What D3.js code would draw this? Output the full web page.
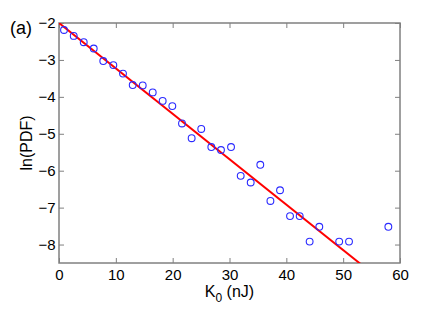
<!DOCTYPE html>
<html><head><meta charset="utf-8">
<script src="https://cdn.jsdelivr.net/npm/d3@7"></script>
<style>body{margin:0;background:#fff}svg{display:block}text{font-family:"Liberation Sans",Arial,sans-serif}</style>
</head><body><svg id="c" width="442" height="310"></svg>
<script>
const kValues = [0.88,2.59,4.35,6.11,7.79,9.56,11.26,12.97,14.73,16.49,18.24,19.94,21.64,23.34,25.03,26.8,28.5,30.27,31.97,33.73,35.42,37.2,38.89,40.65,42.35,44.1,45.8,49.3,51.03,57.95];
const lnPdf = [-2.19,-2.35,-2.52,-2.69,-3.03,-3.14,-3.37,-3.68,-3.69,-3.88,-4.11,-4.25,-4.72,-5.12,-4.87,-5.36,-5.44,-5.36,-6.14,-6.32,-5.84,-6.82,-6.53,-7.23,-7.23,-7.92,-7.52,-7.92,-7.92,-7.52];
const fitX = [0, 60];
const fitY = [-2, -2 - 0.1230*60];
const xTicks = [0,10,20,30,40,50,60];
const yTicks = [-2,-3,-4,-5,-6,-7,-8];

const svg = d3.select("#c");
const L=59,T=23,R=400,B=263;
const x = d3.scaleLinear().domain([0,60]).range([L,R]);
const y = d3.scaleLinear().domain([-8.5,-2]).range([B,T]);
const axisCol="#808080";

svg.append("clipPath").attr("id","clip").append("rect").attr("x",L).attr("y",T).attr("width",R-L).attr("height",B-T);

const fmt = d => d<0 ? "\u2212"+Math.abs(d) : String(d);
const tl=5;
const ax = svg.append("g");
ax.append("g").attr("transform",`translate(0,${B})`)
  .call(d3.axisBottom(x).tickValues(xTicks).tickSizeInner(-tl).tickSizeOuter(0).tickPadding(6.5).tickFormat(fmt));
ax.append("g").attr("transform",`translate(0,${T})`)
  .call(d3.axisTop(x).tickValues(xTicks).tickSizeInner(-tl).tickSizeOuter(0).tickFormat(""));
ax.append("g").attr("transform",`translate(${L},0)`)
  .call(d3.axisLeft(y).tickValues(yTicks).tickSizeInner(-tl).tickSizeOuter(0).tickPadding(3.5).tickFormat(fmt));
ax.append("g").attr("transform",`translate(${R},0)`)
  .call(d3.axisRight(y).tickValues(yTicks).tickSizeInner(-tl).tickSizeOuter(0).tickFormat(""));
ax.selectAll(".domain").remove();
ax.selectAll(".tick line").attr("stroke",axisCol);
ax.selectAll(".tick text").attr("fill","#000").style("font-size","15px");
svg.append("rect").attr("x",L).attr("y",T).attr("width",R-L).attr("height",B-T)
  .attr("fill","none").attr("stroke",axisCol).attr("stroke-width",1.5);

// fit line
svg.append("line").attr("clip-path","url(#clip)")
  .attr("x1",x(fitX[0])).attr("y1",y(fitY[0])).attr("x2",x(fitX[1])).attr("y2",y(fitY[1]))
  .attr("stroke","#ff0000").attr("stroke-width",2);

// points
svg.append("g").selectAll("circle").data(kValues.map((k,i)=>[k,lnPdf[i]])).join("circle")
  .attr("cx",d=>x(d[0])).attr("cy",d=>y(d[1])).attr("r",3.4)
  .attr("fill","none").attr("stroke","#2a2aff").attr("stroke-width",1.1);

// labels
svg.append("text").attr("x",10).attr("y",33.5).style("font-size","18px").text("(a)");
const xl = svg.append("text").attr("x",(L+R)/2).attr("y",297).attr("text-anchor","middle").style("font-size","16px");
xl.append("tspan").text("K");
xl.append("tspan").attr("dy",5).style("font-size","12px").text("0");
xl.append("tspan").attr("dy",-5).text(" (nJ)");
svg.append("text").attr("transform",`translate(32,${(T+B)/2}) rotate(-90)`).attr("text-anchor","middle").style("font-size","16px").text("ln(PDF)");
</script></body></html>
